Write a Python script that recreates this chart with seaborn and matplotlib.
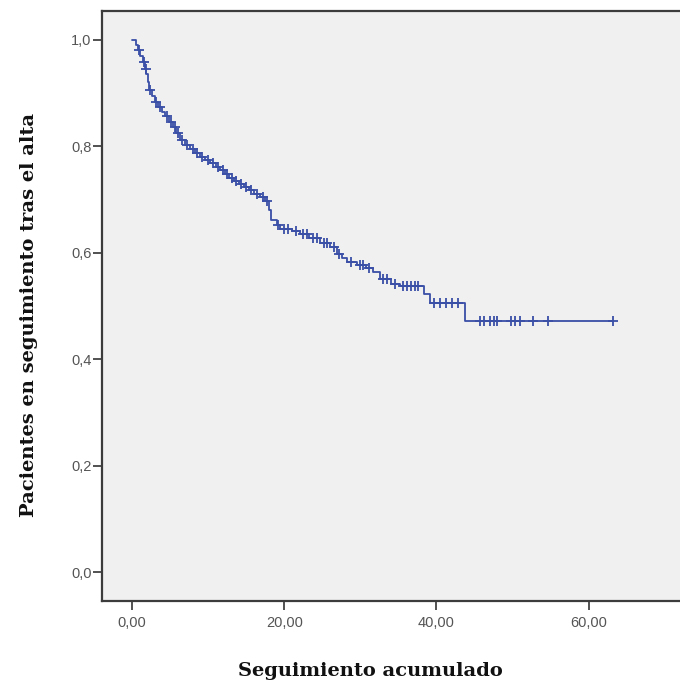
import numpy as np
import pandas as pd
import matplotlib
matplotlib.use("Agg")
import matplotlib.pyplot as plt
import seaborn as sns

# Kaplan-Meier steps: time of each event and survival after it
event_times = [0.0, 0.5, 0.8, 1.1, 1.4, 1.7, 1.9, 2.1, 2.3, 2.6, 3.0, 3.4, 3.9, 4.4,
               4.9, 5.4, 5.8, 6.3, 6.9, 7.6, 8.3, 8.9, 9.6, 10.3, 11.0, 11.6, 12.2,
               12.8, 13.4, 14.0, 14.7, 15.4, 16.0, 16.8, 17.5, 18.0, 18.3, 19.0, 19.5,
               21.0, 22.1, 23.3, 24.7, 26.0, 26.9, 27.6, 28.2, 29.5, 30.8, 31.6, 32.6,
               34.0, 35.2, 38.4, 39.1, 43.7]
survival = [1.000, 0.990, 0.980, 0.970, 0.958, 0.946, 0.935, 0.920, 0.906, 0.895,
            0.884, 0.874, 0.865, 0.856, 0.846, 0.836, 0.824, 0.812, 0.803, 0.794,
            0.788, 0.780, 0.774, 0.768, 0.762, 0.755, 0.748, 0.741, 0.735, 0.730,
            0.724, 0.718, 0.711, 0.704, 0.697, 0.680, 0.662, 0.652, 0.644, 0.640,
            0.635, 0.628, 0.619, 0.610, 0.598, 0.590, 0.582, 0.577, 0.572, 0.563,
            0.550, 0.542, 0.538, 0.522, 0.506, 0.472]
last_followup = 63.2

# Censored observations
censor_times = [0.9, 1.6, 1.8, 2.4, 3.2, 3.7, 4.6, 5.1, 5.6, 6.1, 6.6, 7.2, 8.0, 8.6,
                9.2, 10.0, 10.6, 11.3, 12.0, 12.5, 13.1, 13.7, 14.3, 15.0, 15.7, 16.4,
                17.2, 17.7, 19.2, 20.0, 20.5, 21.5, 22.5, 23.0, 23.8, 24.3, 25.2, 25.6,
                26.5, 27.2, 28.8, 29.9, 30.3, 31.2, 33.0, 33.5, 34.5, 35.6, 36.1, 36.6,
                37.2, 37.6, 39.7, 40.5, 41.3, 42.0, 42.8, 45.7, 46.3, 47.0, 47.6, 48.0,
                49.8, 50.3, 51.0, 52.7, 54.7, 63.2]

x_ticks = [0, 20, 40, 60]
x_tick_labels = ["0,00", "20,00", "40,00", "60,00"]
y_ticks = [0.0, 0.2, 0.4, 0.6, 0.8, 1.0]
y_tick_labels = ["0,0", "0,2", "0,4", "0,6", "0,8", "1,0"]

line_color = "#3a4fa6"

sns.set_theme(style="white")
plt.rcParams["font.family"] = ["Liberation Sans", "DejaVu Sans"]

curve = pd.DataFrame({"t": event_times + [last_followup],
                      "s": survival + [survival[-1]]})
idx = np.searchsorted(np.array(event_times), np.array(censor_times), side="right") - 1
censored = pd.DataFrame({"t": censor_times, "s": np.array(survival)[idx]})

fig = plt.figure(figsize=(6.8, 6.85), dpi=100)
ax = fig.add_axes([0.15, 0.1226, 0.85, 0.8613])
ax.set_facecolor("#f0f0f0")

sns.lineplot(data=curve, x="t", y="s", drawstyle="steps-post", estimator=None,
             color=line_color, linewidth=1.3, ax=ax)
sns.scatterplot(data=censored, x="t", y="s", marker="+", s=60, color=line_color,
                linewidth=1.3, ax=ax, zorder=3)

ax.set_xlim(-3.94, 72.0)
ax.set_ylim(-0.054, 1.054)
ax.set_xticks(x_ticks)
ax.set_xticklabels(x_tick_labels)
ax.set_yticks(y_ticks)
ax.set_yticklabels(y_tick_labels)
ax.tick_params(axis="both", which="major", bottom=True, left=True, direction="out",
               length=6.5, width=1.2, color="#333333", labelsize=10.5,
               labelcolor="#555555")
ax.tick_params(axis="x", pad=4)
ax.tick_params(axis="y", pad=1)

for side in ["left", "top", "bottom"]:
    ax.spines[side].set_color("#3c3c3c")
    ax.spines[side].set_linewidth(1.6)
ax.spines["right"].set_visible(False)

ax.set_xlabel("")
ax.set_ylabel("")
title_font = dict(family=["DejaVu Serif"], weight="bold", size=14, color="#111111")
fig.text(0.545, 0.021, "Seguimiento acumulado", ha="center", va="center", **title_font)
fig.text(0.043, 0.540, "Pacientes en seguimiento tras el alta", ha="center",
         va="center", rotation=90, **title_font)

fig.savefig("out.png", dpi=100)
